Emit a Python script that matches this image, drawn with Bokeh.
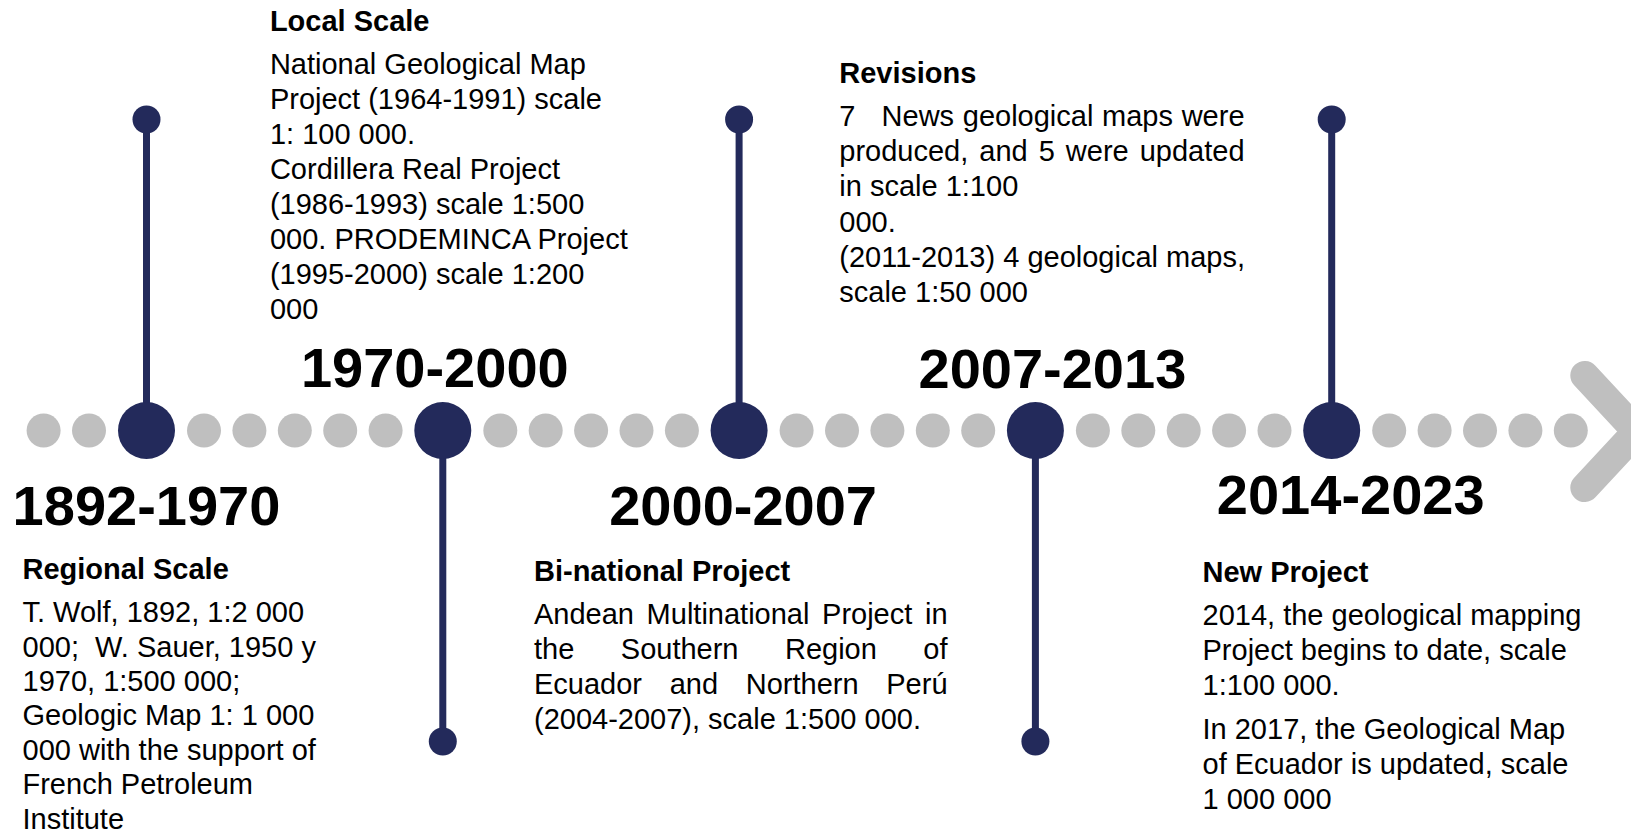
from bokeh.plotting import figure
from bokeh.models import Range1d, ColumnDataSource
from bokeh.embed import file_html
from bokeh.resources import INLINE
from bokeh.core.properties import value

# ---------------- data ----------------
periods = ["1892-1970", "1970-2000", "2000-2007", "2007-2013", "2014-2023"]
titles = ["Regional Scale", "Local Scale", "Bi-national Project", "Revisions", "New Project"]
paragraphs_0 = [["T. Wolf, 1892, 1:2 000", "000;\u00a0 W. Sauer, 1950 y", "1970, 1:500 000;",
                 "Geologic Map 1: 1 000", "000 with the support of", "French Petroleum", "Institute"]]
paragraphs_1 = [["National Geological Map", "Project (1964-1991) scale", "1: 100 000.",
                 "Cordillera Real Project", "(1986-1993) scale 1:500", "000. PRODEMINCA Project",
                 "(1995-2000) scale 1:200", "000"]]
paragraphs_2 = [["Andean Multinational Project in", "the Southern Region of",
                 "Ecuador and Northern Perú", "(2004-2007), scale 1:500 000."]]
paragraphs_3 = [["7   News geological maps were", "produced, and 5 were updated", "in scale 1:100",
                 "000.", "(2011-2013) 4 geological maps,", "scale 1:50 000"]]
paragraphs_4 = [["2014, the geological mapping", "Project begins to date, scale", "1:100 000."],
                ["In 2017, the Geological Map", "of Ecuador is updated, scale", "1 000 000"]]
descriptions = [paragraphs_0, paragraphs_1, paragraphs_2, paragraphs_3, paragraphs_4]
justified_lines = [0, 0, 3, 2, 0]   # leading lines of the first paragraph that are justified

# ---------------- layout / style ----------------
NAVY = "#232A5B"
GRAY = "#BFBFBF"
FONT = "Liberation Sans"
BODY_PX = 29
LABEL_PX = 56
W, H = 1631, 834
BODY_SHIFT = 10      # renderer places alphabetic baseline a bit low; compensate
LABEL_SHIFT = 22

axis_y = 430
event_x0, event_step = 146, 296.3
dot_pitch, dot_gap = 45.4, 57.5
dots_before, dots_between, dots_after = 2, 5, 5
big_size, gray_size, end_size = 57, 34, 28
stem_len, stem_w = 311, 7

label_dx = [0, -8, 4, 17, 19]
label_base = [527, 389.5, 527, 390, 516]
block_left = [22, 269.4, 533.5, 838.8, 1202]
block_right = [None, None, 947, 1244, None]
title_base = [578.3, 30, 580, 82.3, 581]
title_to_body = 43.4
line_step = [34.4, 35, 35, 35.1, 35]
para_gap = 8.7

# Arial / Liberation Sans advance widths (per 1000 em)
AW = {' ': 278, ',': 278, '.': 278, '(': 333, ')': 333, '-': 333, ':': 278, ';': 278,
      'A': 667, 'C': 722, 'E': 667, 'M': 833, 'N': 722, 'P': 667, 'R': 722, 'S': 667,
      'a': 556, 'b': 556, 'c': 500, 'd': 556, 'e': 556, 'f': 278, 'g': 556, 'h': 556,
      'i': 222, 'j': 222, 'l': 222, 'm': 833, 'n': 556, 'o': 556, 'p': 556, 'r': 333,
      's': 500, 't': 278, 'u': 556, 'w': 722, 'y': 500, 'ú': 556}
for d in "0123456789":
    AW[d] = 556


def text_w(s, px):
    return sum(AW.get(ch, 556) for ch in s) * px / 1000.0


n = len(periods)
event_x = [event_x0 + i * event_step for i in range(n)]

# gray dots
gx = []
for k in range(dots_before):
    gx.append(event_x[0] - dot_gap - k * dot_pitch)
for i in range(n):
    cnt = dots_between if i < n - 1 else dots_after
    for k in range(cnt):
        gx.append(event_x[i] + dot_gap + k * dot_pitch)
gy = [axis_y] * len(gx)

# stems: even events go up (label below), odd go down (label above)
stem_end = [axis_y - stem_len if i % 2 == 0 else axis_y + stem_len for i in range(n)]

p = figure(width=W, height=H, x_range=Range1d(0, W), y_range=Range1d(H, 0),
           output_backend="svg", toolbar_location=None, x_axis_type=None, y_axis_type=None,
           min_border=0)
p.outline_line_color = None
p.background_fill_color = "white"
p.border_fill_color = "white"
p.grid.visible = False

p.scatter(gx, gy, size=gray_size, color=GRAY, line_color=None)

# chevron arrow head
last = max(gx)
cx = [last + 14, last + 66, last + 14]
cy = [axis_y - 55, axis_y + 1, axis_y + 57]
p.line(cx, cy, line_width=29, line_color=GRAY, line_cap="round", line_join="round")

p.segment(event_x, [axis_y] * n, event_x, stem_end, line_width=stem_w, line_color=NAVY)
p.scatter(event_x, [axis_y] * n, size=big_size, color=NAVY, line_color=None)
p.scatter(event_x, stem_end, size=end_size, color=NAVY, line_color=None)

# year labels
p.text([event_x[i] + label_dx[i] for i in range(n)], [b - LABEL_SHIFT for b in label_base],
       text=periods, text_font=value(FONT), text_font_style="bold",
       text_font_size=f"{LABEL_PX}px", text_align="center", text_baseline="alphabetic",
       text_color="black")

# titles
p.text(block_left, [b - BODY_SHIFT for b in title_base], text=titles, text_font=value(FONT),
       text_font_style="bold", text_font_size=f"{BODY_PX}px", text_align="left",
       text_baseline="alphabetic", text_color="black")

# body text
bx, by, bt = [], [], []
for i in range(n):
    y = title_base[i] + title_to_body - BODY_SHIFT
    for pi, para in enumerate(descriptions[i]):
        if pi > 0:
            y += para_gap
        for li, line in enumerate(para):
            if pi == 0 and li < justified_lines[i]:
                words = line.split(" ")
                total = sum(text_w(w, BODY_PX) for w in words)
                gap = (block_right[i] - block_left[i] - total) / (len(words) - 1)
                x = block_left[i]
                for w in words:
                    if w:
                        bx.append(x); by.append(y); bt.append(w)
                    x += text_w(w, BODY_PX) + gap
            else:
                bx.append(block_left[i]); by.append(y); bt.append(line)
            y += line_step[i]

src = ColumnDataSource(dict(x=bx, y=by, t=bt))
p.text("x", "y", text="t", source=src, text_font=value(FONT), text_font_size=f"{BODY_PX}px",
       text_align="left", text_baseline="alphabetic", text_color="black")

open("out.html", "w").write(file_html(p, INLINE))
